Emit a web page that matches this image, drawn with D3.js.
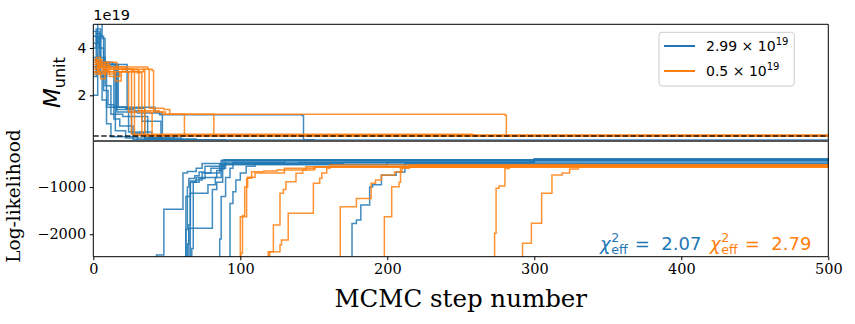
<!DOCTYPE html>
<html><head><meta charset="utf-8">
<script src="https://cdn.jsdelivr.net/npm/d3@7"></script>
<style>html,body{margin:0;padding:0;background:#fff;}svg{display:block;}</style>
</head><body>
<svg id="chart" width="855" height="324"></svg>
<script>
// ---------------- DATA ----------------
const xTicks = [0, 100, 200, 300, 400, 500];
const topTicks = [2, 4];
const botTicks = [-2000, -1000];
const seriesNames = ["2.99 × 10", "0.5 × 10"];
const seriesExp = ["19", "19"];
const chiLabels = ["2.07", "2.79"];
const trueLine = 0.28; // dashed reference (×1e19)

// M_unit traces (×1e19): [step, value] steps
const blueMunit = [
  [[0,3.0],[2,4.6],[5,3.4],[9,1.5],[22,1.45],[35,0.2],[60,0.08],[500,0.08]],
  [[0,4.2],[3,5.2],[6,4.4],[8,3.3],[16,1.3],[30,1.25],[47,0.12],[60,0.08],[500,0.08]],
  [[0,3.6],[4,4.5],[7,2.2],[10,1.6],[14,1.5],[24,0.45],[40,0.15],[70,0.08],[500,0.08]],
  [[0,2.0],[3,3.3],[9,3.3],[16,1.4],[28,1.35],[33,0.9],[46,0.12],[80,0.08],[500,0.08]],
  [[0,4.0],[2,4.8],[5,2.8],[9,3.2],[14,1.0],[18,0.7],[27,0.12],[50,0.08],[500,0.08]],
  [[0,3.5],[4,3.3],[15,3.3],[17,1.5],[42,1.3],[45,1.18],[142,1.15],[143,0.12],[150,0.08],[500,0.08]],
  [[0,4.5],[3,3.0],[6,1.8],[9,0.8],[12,0.25],[30,0.1],[500,0.08]],
  [[0,3.2],[5,3.4],[11,3.3],[23,1.4],[26,0.4],[35,0.12],[90,0.08],[500,0.08]],
  [[0,2.8],[2,3.6],[8,2.4],[12,1.2],[20,1.1],[37,0.2],[55,0.09],[500,0.08]],
  [[0,4.7],[4,4.0],[7,3.4],[13,3.3],[15,0.5],[22,0.2],[45,0.09],[500,0.08]]
];
const orangeMunit = [
  [[0,3.1],[3,3.5],[6,3.0],[10,3.1],[27,3.05],[28,0.3],[500,0.28]],
  [[0,3.3],[2,3.6],[5,3.2],[12,3.1],[30,3.05],[31,1.35],[45,1.3],[47,1.2],[61,1.2],[62,0.3],[500,0.28]],
  [[0,2.9],[4,3.3],[8,2.9],[14,3.2],[37,3.1],[38,1.45],[48,1.4],[52,1.2],[81,1.2],[82,0.3],[500,0.28]],
  [[0,3.5],[3,3.2],[9,3.0],[20,3.1],[40,3.05],[41,1.3],[49,1.2],[280,1.16],[281,0.28],[500,0.28]],
  [[0,3.0],[5,2.7],[8,3.4],[16,3.1],[25,3.1],[26,0.35],[258,0.33],[260,0.29],[500,0.28]],
  [[0,3.2],[6,3.3],[11,2.8],[18,3.0],[34,3.1],[35,0.28],[500,0.28]],
  [[0,3.4],[4,2.9],[7,3.2],[22,3.0],[24,1.3],[39,1.25],[40,0.3],[500,0.28]],
  [[0,3.0],[3,3.4],[10,3.0],[15,2.6],[19,3.0],[30,2.95],[33,0.3],[500,0.28]]
];

// Log-likelihood traces
const blueLogL = [
  [[0,-3000],[43,-2440],[48,-1472],[61,-700],[64,-670],[70,-600],[74,-500],[88,-430],[500,-420]],
  [[0,-3000],[63,-1900],[64,-1000],[65,-820],[69,-760],[72,-680],[76,-560],[89,-500],[140,-480],[298,-470],[300,-400],[500,-395]],
  [[0,-3000],[65,-1870],[80,-1870],[81,-1050],[84,-900],[88,-600],[90,-470],[500,-440]],
  [[0,-3000],[66,-1130],[77,-1130],[78,-950],[83,-800],[87,-620],[89,-420],[500,-400]],
  [[0,-3000],[67,-2300],[68,-900],[72,-820],[76,-700],[80,-600],[88,-520],[200,-480],[297,-470],[300,-410],[500,-400]],
  [[0,-3000],[86,-2100],[87,-1200],[90,-800],[93,-600],[95,-480],[130,-430],[500,-390]],
  [[0,-3000],[93,-1350],[95,-1100],[97,-850],[100,-700],[104,-560],[110,-500],[170,-480],[300,-420],[500,-410]],
  [[0,-3000],[176,-1770],[179,-1700],[182,-1380],[188,-1000],[190,-950],[196,-750],[206,-680],[212,-500],[500,-470]],
  [[0,-3000],[62,-2500],[63,-1200],[66,-900],[70,-850],[74,-700],[86,-520],[500,-450]],
  [[0,-3000],[64,-2200],[65,-1800],[66,-870],[70,-800],[84,-650],[87,-440],[500,-380]]
];
const orangeLogL = [
  [[0,-3000],[100,-1628],[104.3,-815],[107.7,-675],[116,-660],[125,-640],[150,-620],[151,-569],[500,-535]],
  [[0,-3000],[100.5,-2400],[101.5,-1600],[103,-1000],[105,-790],[110,-700],[130,-600],[150,-580],[500,-540]],
  [[0,-3000],[119,-2370],[122.5,-1804],[127,-1133],[129.3,-1050],[131,-887],[137.9,-709],[142.4,-640],[144.7,-569],[500,-530]],
  [[0,-3000],[120,-2370],[127,-2228],[128,-2120],[132.6,-1556],[149.7,-921],[154,-815],[155.5,-700],[158.8,-600],[161,-533],[500,-515]],
  [[0,-3000],[168,-1416],[179,-1240],[189,-922],[192,-850],[196,-746],[205,-680],[210,-600],[215,-540],[500,-520]],
  [[0,-3000],[198,-1628],[203,-993],[208,-900],[209,-571],[220,-540],[500,-525]],
  [[0,-3000],[273,-1980],[274,-1028],[276,-980],[280,-605],[283,-540],[500,-525]],
  [[0,-3000],[292,-2190],[298,-1768],[305,-1133],[312,-746],[319,-700],[324,-620],[330,-540],[500,-530]]
];

// ---------------- LAYOUT ----------------
const colors = ["#1f77b4", "#ff7f0e"];
const L = 93.3, R = 828.3, T1 = 24.3, B1 = 141, T2 = 141, B2 = 256.7;
const svg = d3.select("#chart");
const x = d3.scaleLinear().domain([0, 500]).range([L, R]);
const yTop = d3.scaleLinear().domain([0.07, 5.0]).range([B1, T1]);
const yBot = d3.scaleLinear().domain([-2475, -25]).range([B2, T2]);

const defs = svg.append("defs");
defs.append("clipPath").attr("id", "c1").append("rect").attr("x", L).attr("y", T1).attr("width", R - L).attr("height", B1 - T1);
defs.append("clipPath").attr("id", "c2").append("rect").attr("x", L).attr("y", T2).attr("width", R - L).attr("height", B2 - T2);

function drawChains(g, sets, yScale) {
  sets.forEach((chains, i) => {
    const line = d3.line().x(d => x(d[0])).y(d => yScale(d[1])).curve(d3.curveStepAfter);
    g.selectAll(null).data(chains).enter().append("path")
      .attr("d", line).attr("fill", "none")
      .attr("stroke", colors[i]).attr("stroke-width", 1.5).attr("stroke-opacity", 0.85)
      .attr("stroke-linejoin", "miter");
  });
}

// top panel
const g1 = svg.append("g").attr("clip-path", "url(#c1)");
drawChains(g1, [blueMunit, orangeMunit], yTop);
g1.append("line").attr("x1", L).attr("x2", R).attr("y1", yTop(trueLine)).attr("y2", yTop(trueLine))
  .attr("stroke", "#000").attr("stroke-width", 1.5).attr("stroke-dasharray", "5.5,2.4").attr("stroke-opacity", 0.85);

// bottom panel
const g2 = svg.append("g").attr("clip-path", "url(#c2)");
drawChains(g2, [blueLogL, orangeLogL], yBot);

// axes
const sans = "'DejaVu Sans', sans-serif", serif = "'DejaVu Serif', serif";
const ayTop = svg.append("g").attr("transform", `translate(${L},0)`)
  .call(d3.axisLeft(yTop).tickValues(topTicks).tickFormat(d3.format("d")).tickSize(3.5).tickPadding(3.5));
ayTop.select(".domain").remove();
ayTop.selectAll("text").style("font-family", sans).style("font-size", "14px").attr("fill", "#000");

const ayBot = svg.append("g").attr("transform", `translate(${L},0)`)
  .call(d3.axisLeft(yBot).tickValues(botTicks).tickFormat(d => "\u2212" + Math.abs(d)).tickSize(3.5).tickPadding(3.5));
ayBot.select(".domain").remove();
ayBot.selectAll("text").style("font-family", serif).style("font-size", "14.5px").attr("fill", "#000");

const ax = svg.append("g").attr("transform", `translate(0,${B2})`)
  .call(d3.axisBottom(x).tickValues(xTicks).tickFormat(d3.format("d")).tickSize(3.5).tickPadding(4));
ax.select(".domain").remove();
ax.selectAll("text").style("font-family", serif).style("font-size", "14.5px").attr("fill", "#000");

// spines
const sp = svg.append("g").attr("fill", "none");
sp.append("path").attr("d", `M${L},${B1}V${T1}H${R}V${B1}`).attr("stroke", "#000").attr("stroke-width", 1);
sp.append("path").attr("d", `M${L},${T2}V${B2}H${R}V${T2}`).attr("stroke", "#000").attr("stroke-width", 1);
sp.append("line").attr("x1", L).attr("x2", R).attr("y1", B1).attr("y2", B1).attr("stroke", "#555").attr("stroke-width", 1.8);

// offset text
svg.append("text").attr("x", L).attr("y", 20).text("1e19")
  .style("font-family", sans).style("font-size", "14.5px");

// y labels
const ml = svg.append("text").attr("transform", `translate(60,${(T1 + B1) / 2}) rotate(-90)`).attr("text-anchor", "middle")
  .style("font-family", sans);
ml.append("tspan").text("M").style("font-style", "italic").style("font-size", "23px");
ml.append("tspan").text("unit").style("font-size", "16px").attr("dy", 5);

svg.append("text").attr("transform", `translate(20,196) rotate(-90)`).attr("text-anchor", "middle")
  .style("font-family", serif).style("font-size", "18.5px").text("Log-likelihood");

svg.append("text").attr("x", (L + R) / 2).attr("y", 307).attr("text-anchor", "middle")
  .style("font-family", serif).style("font-size", "24.5px").text("MCMC step number");

// legend
const lg = svg.append("g");
lg.append("rect").attr("x", 659).attr("y", 32.3).attr("width", 135.3).attr("height", 53.7).attr("rx", 3)
  .attr("fill", "#fff").attr("fill-opacity", 0.8).attr("stroke", "#ccc").attr("stroke-width", 1);
seriesNames.forEach((name, i) => {
  const yy = 46 + i * 25;
  lg.append("line").attr("x1", 664).attr("x2", 695).attr("y1", yy).attr("y2", yy)
    .attr("stroke", colors[i]).attr("stroke-width", 2);
  const t = lg.append("text").attr("x", 706).attr("y", yy + 5).style("font-family", sans).style("font-size", "14px");
  t.append("tspan").text(name);
  t.append("tspan").text(seriesExp[i]).attr("dy", -6).style("font-size", "10px");
});

// chi^2 annotations
function chiText(x0, y0, color, val, size) {
  const g = svg.append("g").attr("fill", color).style("font-family", sans);
  const c = g.append("text").attr("x", x0).attr("y", y0).style("font-size", size + "px").style("font-style", "italic").text("χ");
  const w1 = c.node().getComputedTextLength();
  const t = g.append("text").attr("x", x0 + w1 + 0.5).attr("y", y0);
  const s1 = t.append("tspan").attr("x", x0 + w1 + 0.5).attr("dy", -size * 0.45).style("font-size", (size * 0.7) + "px").text("2");
  const s2 = t.append("tspan").attr("x", x0 + w1 + 0.5).attr("dy", size * 0.67).style("font-size", (size * 0.7) + "px").text("eff");
  const w2 = Math.max(s1.node().getComputedTextLength(), s2.node().getComputedTextLength());
  g.append("text").attr("x", x0 + w1 + w2 + 2).attr("y", y0).style("font-size", size + "px").style("white-space", "pre")
    .text(" =  " + val);
}
chiText(600, 250, colors[0], chiLabels[0], 18);
chiText(710, 250, colors[1], chiLabels[1], 18);
</script>
</body></html>
